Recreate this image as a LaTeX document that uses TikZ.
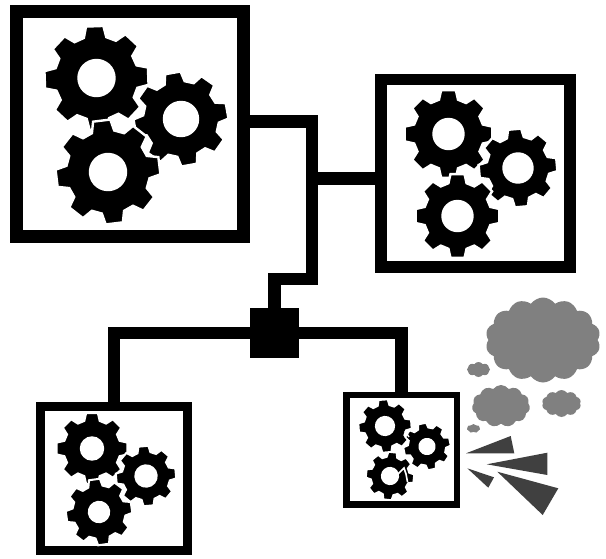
\documentclass[tikz,border=0pt]{standalone}
\usetikzlibrary{shapes.symbols}
\definecolor{cloudgray}{HTML}{808080}
\definecolor{shardgray}{HTML}{404040}
% One black cog with eight teeth and a round hole:
% \cog[white rim width]{x}{y}{outer radius}{hole radius}{rotation}
\newcommand\cog[6][2.4]{%
  \fill[black, draw=white, line width=#1pt, even odd rule, line join=miter,
        shift={(#2,#3)}, rotate=#6]
    (-15.5:{0.8*#4})
    \foreach \k in {0,...,7}{
      -- ({\k*45-15.5}:{0.8*#4}) -- ({\k*45-9.5}:#4)
      -- ({\k*45+9.5}:#4) -- ({\k*45+15.5}:{0.8*#4})
    } -- cycle
    (0,0) circle[radius=#5];
}
\tikzset{
  panel/.style={draw=black, fill=white, rectangle, inner sep=0pt},
  wire/.style={draw=black, line width=12.5pt, line join=miter, line cap=butt},
  hubbox/.style={fill=black, rectangle, inner sep=0pt, minimum width=49pt, minimum height=50pt},
  puff/.style={cloud, fill=cloudgray, inner sep=0pt, aspect=1.4, cloud puff arc=110},
  shard/.style={fill=shardgray}
}
\begin{document}
\begin{tikzpicture}[x=1pt, y=-1pt]
  \useasboundingbox (0,0) rectangle (606,558);

  % machine housings
  \node[panel, line width=13pt, minimum width=227pt, minimum height=225pt] (b1) at (130,124) {};
  \node[panel, line width=11.5pt, minimum width=189pt, minimum height=187.5pt] (b2) at (475.5,173.25) {};
  \node[panel, line width=9pt, minimum width=147pt, minimum height=144pt] (b3) at (114,478.5) {};
  \node[panel, line width=6.5pt, minimum width=110.5pt, minimum height=109.5pt] (b4) at (401.5,449.75) {};

  % central junction
  \node[hubbox] (hub) at (274.5,333) {};

  % bends of the upper wiring
  \coordinate (j1) at (312,121.5);
  \coordinate (j2) at (312,279);
  \coordinate (j3) at (274.5,279);
  \coordinate (j4) at (312,178.5);

  \draw[wire] (b1.east |- j1) -- (j1) -- (j2) -- (j3) -- (hub.north);
  \draw[wire] (j4) -- (b2.west |- j4);
  \draw[wire] (hub.west) -| (b3.north);
  \draw[wire] (hub.east) -| (b4.north);

  % cogs, upper left housing
  \cog{96.5}{78}{52.5}{18}{2}
  \cog{181}{119}{47.5}{17}{10}
  \cog{108}{172}{52.5}{18}{7}

  % cogs, upper right housing
  \cog{448.5}{134}{44.5}{15}{0}
  \cog{518}{168}{39.5}{14.5}{5}
  \cog{457.5}{216}{42.5}{15}{0}

  % cogs, lower left housing
  \cog[2]{92}{448.5}{35.8}{11.2}{0}
  \cog[2]{146}{476}{30.3}{10.7}{5}
  \cog[2]{99}{512}{33.3}{10.2}{8}

  % cogs, lower right housing (damaged)
  \cog[1.6]{385}{426}{26.6}{9.3}{4}
  \cog[1.6]{427}{446.5}{23.6}{7.8}{12}
  \cog[1.6]{390}{476}{24.1}{8.3}{-6}
  \draw[white, line width=1.6pt] (398,474) -- (404,468) -- (406,474) -- (407.5,482);
  \draw[white, line width=1.4pt] (405,431) -- (409,437);

  % smoke
  \node[puff, cloud puffs=14, minimum width=115pt, minimum height=85pt] (s1) at (543,340) {};
  \node[puff, cloud puffs=11, minimum width=58pt, minimum height=42pt] (s2) at (501,406) {};
  \node[puff, cloud puffs=10, minimum width=39pt, minimum height=27pt] (s3) at (561.5,403.5) {};
  \node[puff, cloud puffs=8, minimum width=23pt, minimum height=15pt] (s4) at (478.5,369.5) {};
  \node[puff, cloud puffs=7, minimum width=13pt, minimum height=9pt] (s5) at (473.5,428.5) {};

  % flying shards
  \fill[shard] (466,453.3) -- (510.7,436) -- (514.3,453.3) -- cycle;
  \fill[shard] (486.7,464.3) -- (547.3,452.7) -- (547.3,475) -- cycle;
  \fill[shard] (467.3,468.3) -- (494,477.3) -- (488.3,487.7) -- cycle;
  \fill[shard] (497.3,471.7) -- (558.3,488.3) -- (542.7,515) -- cycle;
\end{tikzpicture}
\end{document}
